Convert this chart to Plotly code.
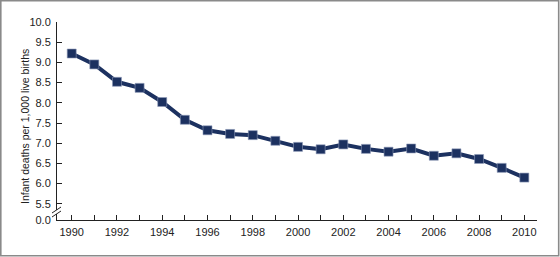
import plotly.graph_objects as go

years = list(range(1990, 2011))
rates = [9.22, 8.95, 8.52, 8.37, 8.02, 7.58, 7.32, 7.23, 7.20, 7.06, 6.91,
         6.85, 6.97, 6.86, 6.79, 6.87, 6.69, 6.75, 6.61, 6.39, 6.15]
y_tickvals = [5.1, 5.5, 6.0, 6.5, 7.0, 7.5, 8.0, 8.5, 9.0, 9.5, 10.0]
y_ticktext = ["0.0", "5.5", "6.0", "6.5", "7.0", "7.5", "8.0", "8.5", "9.0", "9.5", "10.0"]
x_ticktext = [str(y) if y % 2 == 0 else "" for y in years]

NAVY = "#1c3160"
L, R, T, B = 57, 23, 22, 37
W, H = 560, 257
pw, ph = W - L - R, H - T - B

def px(x):
    return (x - L) / pw

def py(y):
    return (H - B - y) / ph

fig = go.Figure()
fig.add_trace(go.Scatter(
    x=years, y=rates, mode="lines+markers",
    line=dict(color=NAVY, width=4),
    marker=dict(symbol="square", size=9, color=NAVY, line=dict(color="#8f9bb8", width=0.6)),
    hoverinfo="skip", showlegend=False, cliponaxis=False,
))

fig.update_layout(
    width=W, height=H,
    margin=dict(l=L, r=R, t=T, b=B),
    paper_bgcolor="white", plot_bgcolor="white",
    font=dict(family="Liberation Sans, Arial, sans-serif", size=11, color="#222"),
    xaxis=dict(range=[1989.35, 2010.56], tickvals=years, ticktext=x_ticktext,
               ticks="inside", ticklen=5, tickcolor="#222", tickwidth=1,
               showline=True, linecolor="#222", linewidth=1, showgrid=False,
               zeroline=False, fixedrange=True, tickfont=dict(size=11),
               ticklabelstandoff=2),
    yaxis=dict(range=[5.1, 10.0], tickvals=y_tickvals, ticktext=y_ticktext,
               ticks="inside", ticklen=5, tickcolor="#222", tickwidth=1,
               showline=True, linecolor="#222", linewidth=1, showgrid=False,
               zeroline=False, fixedrange=True, tickfont=dict(size=11),
               ticklabelstandoff=3),
    annotations=[dict(text="Infant deaths per 1,000 live births", textangle=-90,
                      xref="paper", yref="paper", x=px(25), y=py(127),
                      xanchor="center", yanchor="middle", showarrow=False,
                      font=dict(size=10.5, color="#222"))],
    shapes=[
        # outer border
        dict(type="rect", xref="paper", yref="paper", x0=px(0.8), x1=px(558.7),
             y0=py(255.8), y1=py(0.8), line=dict(color="#8a8a8a", width=1.6), layer="above"),
        # axis break: white gap
        dict(type="rect", xref="paper", yref="paper", x0=px(55), x1=px(59),
             y0=py(214), y1=py(210), fillcolor="white", line=dict(width=0), layer="above"),
        dict(type="line", xref="paper", yref="paper", x0=px(52), x1=px(61),
             y0=py(213), y1=py(207), line=dict(color="#222", width=1), layer="above"),
        dict(type="line", xref="paper", yref="paper", x0=px(52), x1=px(61),
             y0=py(217), y1=py(211), line=dict(color="#222", width=1), layer="above"),
    ],
)

fig.write_html("out.html")
